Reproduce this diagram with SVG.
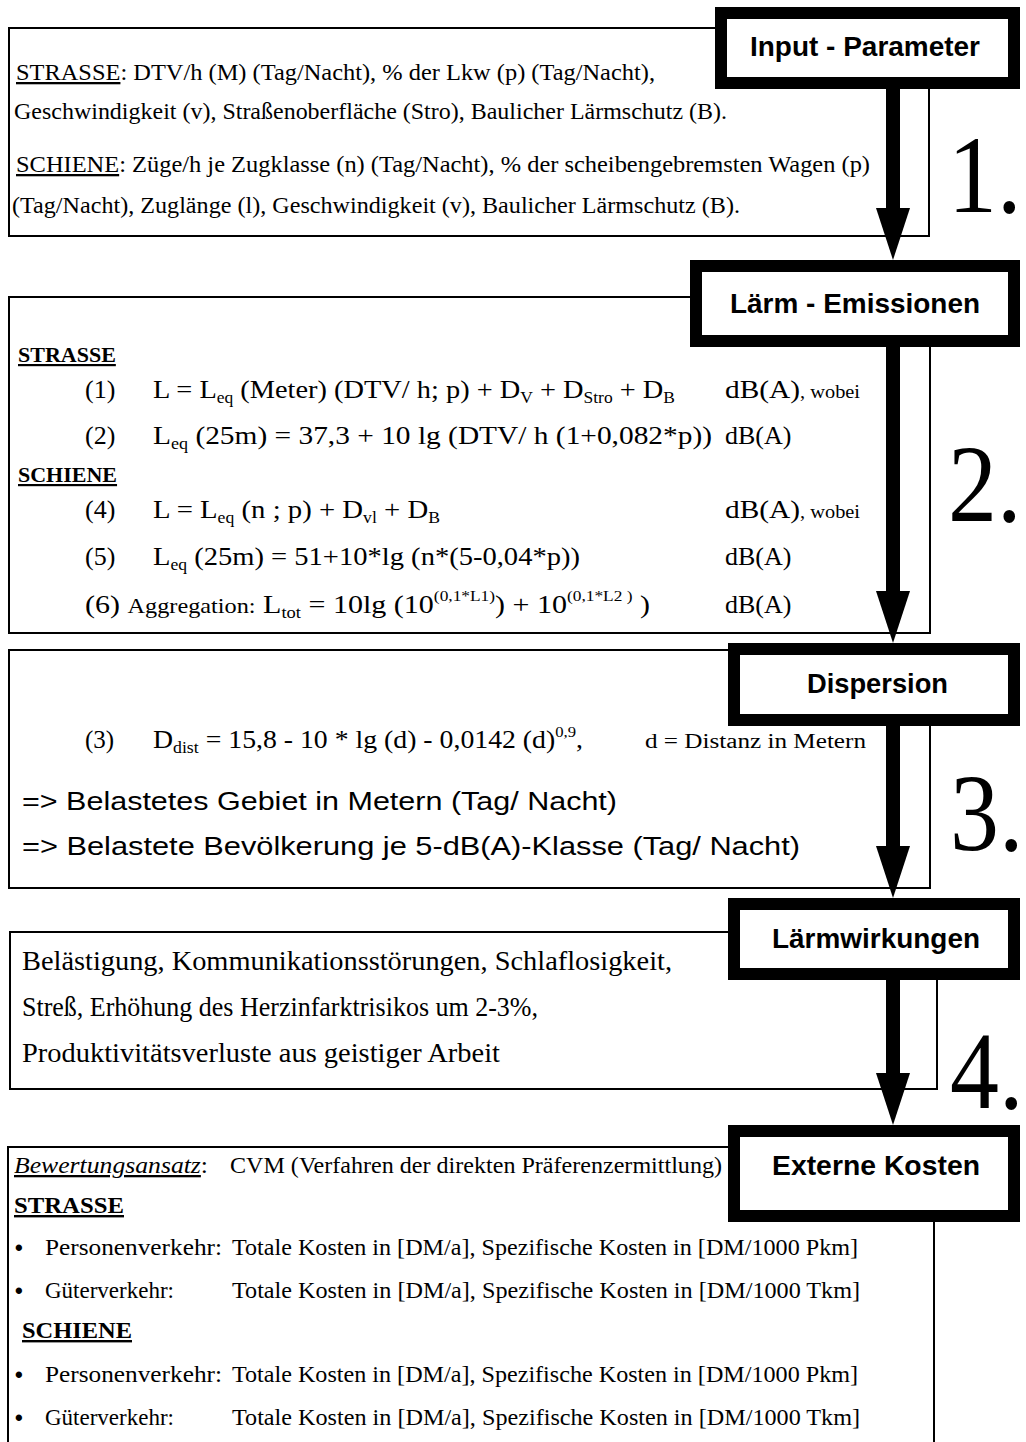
<svg xmlns="http://www.w3.org/2000/svg" width="1026" height="1442" viewBox="0 0 1026 1442">
<style>
.bg{fill:#fff}
.thin{fill:none;stroke:#000;stroke-width:2}
.hdr{fill:#fff;stroke:#000;stroke-width:12}
.ht{font-family:"Liberation Sans",Arial,sans-serif;font-weight:bold;font-size:27px;fill:#000}
.t{font-family:"Liberation Serif","Times New Roman",serif;fill:#000}
.s{font-family:"Liberation Sans",Arial,sans-serif;fill:#000}
.u{text-decoration:underline}
.b{font-weight:bold}
.bul{font-family:"Liberation Sans",Arial,sans-serif;font-size:22px;font-weight:bold;fill:#000}
.num{font-family:"Liberation Serif","Times New Roman",serif;font-size:98px;fill:#000}
.shaft{stroke:#000;stroke-width:14;fill:none}
</style>
<defs>
<marker id="ah" markerUnits="userSpaceOnUse" markerWidth="52" markerHeight="34" refX="22" refY="17" orient="auto">
<path d="M0,0 L52,17 L0,34 Z" fill="#000"/>
</marker>
</defs>
<rect class="bg" x="0" y="0" width="1026" height="1442"/>

<g id="box1">
<path class="thin" d="M715,28 H9 V236 H929 V89"/>
<text class="t" font-size="23" x="16" y="80" textLength="639" lengthAdjust="spacingAndGlyphs"><tspan class="u">STRASSE</tspan>: DTV/h (M) (Tag/Nacht), % der Lkw (p) (Tag/Nacht),</text>
<text class="t" font-size="23" x="14" y="119" textLength="713" lengthAdjust="spacingAndGlyphs">Geschwindigkeit (v), Straßenoberfläche (Stro), Baulicher Lärmschutz (B).</text>
<text class="t" font-size="23" x="16" y="172" textLength="854" lengthAdjust="spacingAndGlyphs"><tspan class="u">SCHIENE</tspan>: Züge/h je Zugklasse (n) (Tag/Nacht), % der scheibengebremsten Wagen (p)</text>
<text class="t" font-size="23" x="12" y="213" textLength="728" lengthAdjust="spacingAndGlyphs">(Tag/Nacht), Zuglänge (l), Geschwindigkeit (v), Baulicher Lärmschutz (B).</text>
</g>
<g id="hdr1">
<rect class="hdr" x="721" y="13" width="293" height="70"/>
<text class="ht" x="750" y="56" textLength="230" lengthAdjust="spacingAndGlyphs">Input - Parameter</text>
</g>
<text class="num" transform="translate(948,212) scale(1,1.12)">1.</text>

<g id="box2">
<path class="thin" d="M690,297 H9 V633 H930 V347"/>
<text class="t b u" font-size="22" x="18" y="362">STRASSE</text>
<text class="t" font-size="26" x="85" y="398">(1)</text>
<text class="t" font-size="26" x="153" y="398" textLength="522" lengthAdjust="spacingAndGlyphs">L = L<tspan font-size="16" dy="5">eq</tspan><tspan dy="-5"> (Meter) (DTV/ h; p) + D</tspan><tspan font-size="16" dy="5">V</tspan><tspan dy="-5"> + D</tspan><tspan font-size="16" dy="5">Stro</tspan><tspan dy="-5"> + D</tspan><tspan font-size="16" dy="5">B</tspan></text>
<text class="t" font-size="26" x="725" y="398" textLength="135" lengthAdjust="spacingAndGlyphs">dB(A)<tspan font-size="18">, wobei</tspan></text>
<text class="t" font-size="26" x="85" y="444">(2)</text>
<text class="t" font-size="26" x="153" y="444" textLength="559" lengthAdjust="spacingAndGlyphs">L<tspan font-size="16" dy="5">eq</tspan><tspan dy="-5"> (25m) = 37,3 + 10 lg (DTV/ h (1+0,082*p))</tspan></text>
<text class="t" font-size="26" x="725" y="444">dB(A)</text>
<text class="t b u" font-size="22" x="18" y="482">SCHIENE</text>
<text class="t" font-size="26" x="85" y="518">(4)</text>
<text class="t" font-size="26" x="153" y="518" textLength="287" lengthAdjust="spacingAndGlyphs">L = L<tspan font-size="16" dy="5">eq</tspan><tspan dy="-5"> (n ; p) + D</tspan><tspan font-size="16" dy="5">vl</tspan><tspan dy="-5"> + D</tspan><tspan font-size="16" dy="5">B</tspan></text>
<text class="t" font-size="26" x="725" y="518" textLength="135" lengthAdjust="spacingAndGlyphs">dB(A)<tspan font-size="18">, wobei</tspan></text>
<text class="t" font-size="26" x="85" y="565">(5)</text>
<text class="t" font-size="26" x="153" y="565" textLength="427" lengthAdjust="spacingAndGlyphs">L<tspan font-size="16" dy="5">eq</tspan><tspan dy="-5"> (25m) = 51+10*lg (n*(5-0,04*p))</tspan></text>
<text class="t" font-size="26" x="725" y="565">dB(A)</text>
<text class="t" font-size="26" x="85" y="613" textLength="565" lengthAdjust="spacingAndGlyphs">(6) <tspan font-size="21">Aggregation:</tspan>  L<tspan font-size="16" dy="5">tot</tspan><tspan dy="-5"> = 10lg (10</tspan><tspan font-size="15" dy="-12">(0,1*L1)</tspan><tspan dy="12">) +  10</tspan><tspan font-size="15" dy="-12">(0,1*L2 )</tspan><tspan dy="12"> )</tspan></text>
<text class="t" font-size="26" x="725" y="613">dB(A)</text>
</g>
<g id="hdr2">
<rect class="hdr" x="696" y="266" width="318" height="75"/>
<text class="ht" x="730" y="313" textLength="250" lengthAdjust="spacingAndGlyphs">Lärm - Emissionen</text>
</g>
<text class="num" transform="translate(948,521) scale(1,1.12)">2.</text>

<g id="box3">
<path class="thin" d="M728,650 H9 V888 H930 V726"/>
<text class="t" font-size="25" x="85" y="748">(3)</text>
<text class="t" font-size="25" x="153" y="748" textLength="430" lengthAdjust="spacingAndGlyphs">D<tspan font-size="16" dy="5">dist</tspan><tspan dy="-5"> = 15,8 - 10 * lg (d) - 0,0142 (d)</tspan><tspan font-size="15" dy="-11">0,9</tspan><tspan dy="11">,</tspan></text>
<text class="t" font-size="20" x="645" y="748" textLength="221" lengthAdjust="spacingAndGlyphs">d = Distanz in Metern</text>
<text class="s" font-size="26" x="22" y="810" textLength="595" lengthAdjust="spacingAndGlyphs">=&gt; Belastetes Gebiet in Metern (Tag/ Nacht)</text>
<text class="s" font-size="26" x="22" y="855" textLength="778" lengthAdjust="spacingAndGlyphs">=&gt; Belastete Bevölkerung je 5-dB(A)-Klasse (Tag/ Nacht)</text>
</g>
<g id="hdr3">
<rect class="hdr" x="734" y="649" width="280" height="71"/>
<text class="ht" x="807" y="693" textLength="141" lengthAdjust="spacingAndGlyphs">Dispersion</text>
</g>
<text class="num" transform="translate(950,850) scale(1,1.12)">3.</text>

<g id="box4">
<path class="thin" d="M728,932 H10 V1089 H937 V980"/>
<text class="t" font-size="27" x="22" y="970" textLength="650" lengthAdjust="spacingAndGlyphs">Belästigung, Kommunikationsstörungen, Schlaflosigkeit,</text>
<text class="t" font-size="27" x="22" y="1016" textLength="516" lengthAdjust="spacingAndGlyphs">Streß, Erhöhung des Herzinfarktrisikos um 2-3%,</text>
<text class="t" font-size="27" x="22" y="1062" textLength="478" lengthAdjust="spacingAndGlyphs">Produktivitätsverluste aus geistiger Arbeit</text>
</g>
<g id="hdr4">
<rect class="hdr" x="734" y="904" width="280" height="70"/>
<text class="ht" x="772" y="948" textLength="208" lengthAdjust="spacingAndGlyphs">Lärmwirkungen</text>
</g>
<text class="num" transform="translate(950,1108) scale(1,1.12)">4.</text>

<g id="box5">
<path class="thin" d="M728,1147 H8 V1442 M934,1222 V1442"/>
<text class="t" font-size="23" x="14" y="1173" textLength="194" lengthAdjust="spacingAndGlyphs"><tspan font-style="italic" class="u">Bewertungsansatz</tspan>:</text>
<text class="t" font-size="23" x="230" y="1173" textLength="492" lengthAdjust="spacingAndGlyphs">CVM (Verfahren der direkten Präferenzermittlung)</text>
<text class="t b u" font-size="24" x="14" y="1213" textLength="110" lengthAdjust="spacingAndGlyphs">STRASSE</text>
<text class="bul" x="15" y="1255">•</text>
<text class="t" font-size="23" x="45" y="1255" textLength="177" lengthAdjust="spacingAndGlyphs">Personenverkehr:</text>
<text class="t" font-size="23" x="232" y="1255" textLength="626" lengthAdjust="spacingAndGlyphs">Totale Kosten in [DM/a], Spezifische Kosten in [DM/1000 Pkm]</text>
<text class="bul" x="15" y="1298">•</text>
<text class="t" font-size="23" x="45" y="1298">Güterverkehr:</text>
<text class="t" font-size="23" x="232" y="1298" textLength="628" lengthAdjust="spacingAndGlyphs">Totale Kosten in [DM/a], Spezifische Kosten in [DM/1000 Tkm]</text>
<text class="t b u" font-size="24" x="22" y="1338" textLength="110" lengthAdjust="spacingAndGlyphs">SCHIENE</text>
<text class="bul" x="15" y="1382">•</text>
<text class="t" font-size="23" x="45" y="1382" textLength="177" lengthAdjust="spacingAndGlyphs">Personenverkehr:</text>
<text class="t" font-size="23" x="232" y="1382" textLength="626" lengthAdjust="spacingAndGlyphs">Totale Kosten in [DM/a], Spezifische Kosten in [DM/1000 Pkm]</text>
<text class="bul" x="15" y="1425">•</text>
<text class="t" font-size="23" x="45" y="1425">Güterverkehr:</text>
<text class="t" font-size="23" x="232" y="1425" textLength="628" lengthAdjust="spacingAndGlyphs">Totale Kosten in [DM/a], Spezifische Kosten in [DM/1000 Tkm]</text>
</g>
<g id="hdr5">
<rect class="hdr" x="734" y="1131" width="280" height="85"/>
<text class="ht" x="772" y="1175" textLength="208" lengthAdjust="spacingAndGlyphs">Externe Kosten</text>
</g>

<g id="connectors">
<line class="shaft" x1="893" y1="89" x2="893" y2="230" marker-end="url(#ah)"/>
<line class="shaft" x1="893" y1="347" x2="893" y2="613" marker-end="url(#ah)"/>
<line class="shaft" x1="893" y1="726" x2="893" y2="868" marker-end="url(#ah)"/>
<line class="shaft" x1="893" y1="980" x2="893" y2="1095" marker-end="url(#ah)"/>
</g>
</svg>
